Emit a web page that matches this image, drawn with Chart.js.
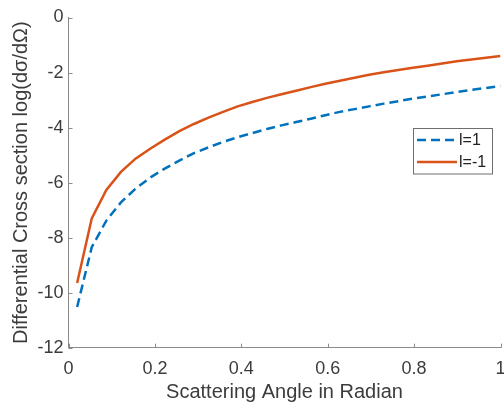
<!DOCTYPE html>
<html>
<head>
<meta charset="utf-8">
<script src="https://cdn.jsdelivr.net/npm/chart.js@4"></script>
<style>
  body { margin: 0; background: #fff; }
  canvas { display: block; }
</style>
</head>
<body>
<canvas id="chart" width="504" height="404"></canvas>
<script>
// scattering angle samples (radian)
const angles = [0.02, 0.0538, 0.0876, 0.1214, 0.1552, 0.1890, 0.2228, 0.2566, 0.2903, 0.3241,
    0.3579, 0.3917, 0.4255, 0.4593, 0.4931, 0.5269, 0.5607, 0.5945, 0.6283, 0.6621,
    0.6959, 0.7297, 0.7634, 0.7972, 0.8310, 0.8648, 0.8986, 0.9324, 0.9662, 1.0];

// log(dsigma/dOmega) for l=1 and l=-1
const crossL1 = [-10.52, -8.35, -7.38, -6.72, -6.22, -5.82, -5.49, -5.20, -4.93, -4.72,
    -4.52, -4.35, -4.20, -4.05, -3.92, -3.80, -3.68, -3.55, -3.43, -3.33,
    -3.23, -3.13, -3.04, -2.95, -2.87, -2.79, -2.71, -2.63, -2.56, -2.49];
const crossLm1 = [-9.65, -7.30, -6.27, -5.61, -5.13, -4.77, -4.44, -4.13, -3.87, -3.64,
    -3.43, -3.23, -3.07, -2.92, -2.79, -2.66, -2.53, -2.41, -2.30, -2.19,
    -2.08, -1.99, -1.91, -1.83, -1.75, -1.67, -1.59, -1.53, -1.46, -1.40];

const seriesLabels = ['l=1', 'l=-1'];
const xTicks = [0, 0.2, 0.4, 0.6, 0.8, 1];
const yTicks = [-12, -10, -8, -6, -4, -2, 0];

const axisColor = '#8a8a8a';
const textColor = '#3c3c3c';
const fontFamily = '"Liberation Sans", Arial, Helvetica, sans-serif';

// MATLAB style ticks pointing into the plot
const innerTicks = {
    id: 'innerTicks',
    afterDraw(chart) {
        const ctx = chart.ctx;
        const xs = chart.scales.x, ys = chart.scales.y;
        const area = chart.chartArea;
        ctx.save();
        ctx.strokeStyle = axisColor;
        ctx.lineWidth = 1;
        ctx.beginPath();
        xTicks.forEach(v => {
            const px = Math.round(xs.getPixelForValue(v)) + 0.5;
            ctx.moveTo(px, area.bottom);
            ctx.lineTo(px, area.bottom - 4);
        });
        yTicks.forEach(v => {
            const py = Math.round(ys.getPixelForValue(v)) + 0.5;
            ctx.moveTo(area.left, py);
            ctx.lineTo(area.left + 4, py);
        });
        ctx.stroke();
        ctx.restore();
    }
};

// boxed legend inside the axes, like MATLAB 'location' east
const boxLegend = {
    id: 'boxLegend',
    afterDraw(chart) {
        const ctx = chart.ctx;
        const area = chart.chartArea;
        const w = 79, h = 45.5;
        const x0 = Math.round(area.right - 87.5), y0 = Math.round(area.top + 110);
        ctx.save();
        ctx.fillStyle = '#fff';
        ctx.fillRect(x0, y0, w, h);
        ctx.strokeStyle = '#6e6e6e';
        ctx.lineWidth = 1;
        ctx.strokeRect(x0 + 0.5, y0 + 0.5, w, h);
        ctx.font = '16px ' + fontFamily;
        ctx.textBaseline = 'middle';
        chart.data.datasets.forEach((ds, i) => {
            const yy = y0 + 12 + i * 22;
            ctx.strokeStyle = ds.borderColor;
            ctx.lineWidth = ds.borderWidth;
            ctx.setLineDash(ds.borderDash || []);
            ctx.beginPath();
            ctx.moveTo(x0 + 4, yy);
            ctx.lineTo(x0 + 44, yy);
            ctx.stroke();
            ctx.setLineDash([]);
            ctx.fillStyle = '#222';
            ctx.fillText(ds.label, x0 + 46, yy + 0.5);
        });
        ctx.restore();
    }
};

const chart = new Chart(document.getElementById('chart').getContext('2d'), {
    type: 'line',
    data: {
        datasets: [
            {
                label: seriesLabels[0],
                data: angles.map((a, i) => ({ x: a, y: crossL1[i] })),
                borderColor: '#0072BD',
                borderWidth: 2.5,
                borderDash: [9, 5],
                pointRadius: 0,
                tension: 0,
                fill: false
            },
            {
                label: seriesLabels[1],
                data: angles.map((a, i) => ({ x: a, y: crossLm1[i] })),
                borderColor: '#D95319',
                borderWidth: 2.5,
                pointRadius: 0,
                tension: 0,
                fill: false
            }
        ]
    },
    options: {
        responsive: false,
        animation: false,
        layout: { padding: { left: 0, right: 3.5, top: 17.5, bottom: 0 } },
        plugins: {
            legend: { display: false },
            tooltip: { enabled: false }
        },
        scales: {
            x: {
                type: 'linear',
                min: 0,
                max: 1,
                afterBuildTicks: s => { s.ticks = xTicks.map(v => ({ value: v })); },
                afterFit: s => {
                    s.height = 56.3;
                    s.paddingLeft = 0;
                    s.paddingRight = 0;
                },
                grid: { display: false, drawTicks: false },
                border: { display: true, color: axisColor, width: 1 },
                ticks: {
                    color: textColor,
                    font: { family: fontFamily, size: 18 },
                    padding: 11,
                    maxRotation: 0,
                    callback: v => String(Math.round(v * 10) / 10)
                },
                title: {
                    display: true,
                    text: 'Scattering Angle in Radian',
                    color: textColor,
                    font: { family: fontFamily, size: 20 },
                    padding: 0
                }
            },
            y: {
                min: -12,
                max: 0,
                afterBuildTicks: s => { s.ticks = yTicks.map(v => ({ value: v })); },
                afterFit: s => {
                    s.width = 68.5;
                    s.paddingTop = 0;
                    s.paddingBottom = 0;
                },
                grid: { display: false, drawTicks: false },
                border: { display: true, color: axisColor, width: 1 },
                ticks: {
                    color: textColor,
                    font: { family: fontFamily, size: 18 },
                    padding: 5
                },
                title: {
                    display: true,
                    text: 'Differential Cross section log(dσ/dΩ)',
                    color: textColor,
                    font: { family: fontFamily, size: 20 },
                    padding: { top: 9, bottom: 0 }
                }
            }
        }
    },
    plugins: [innerTicks, boxLegend]
});
</script>
</body>
</html>
